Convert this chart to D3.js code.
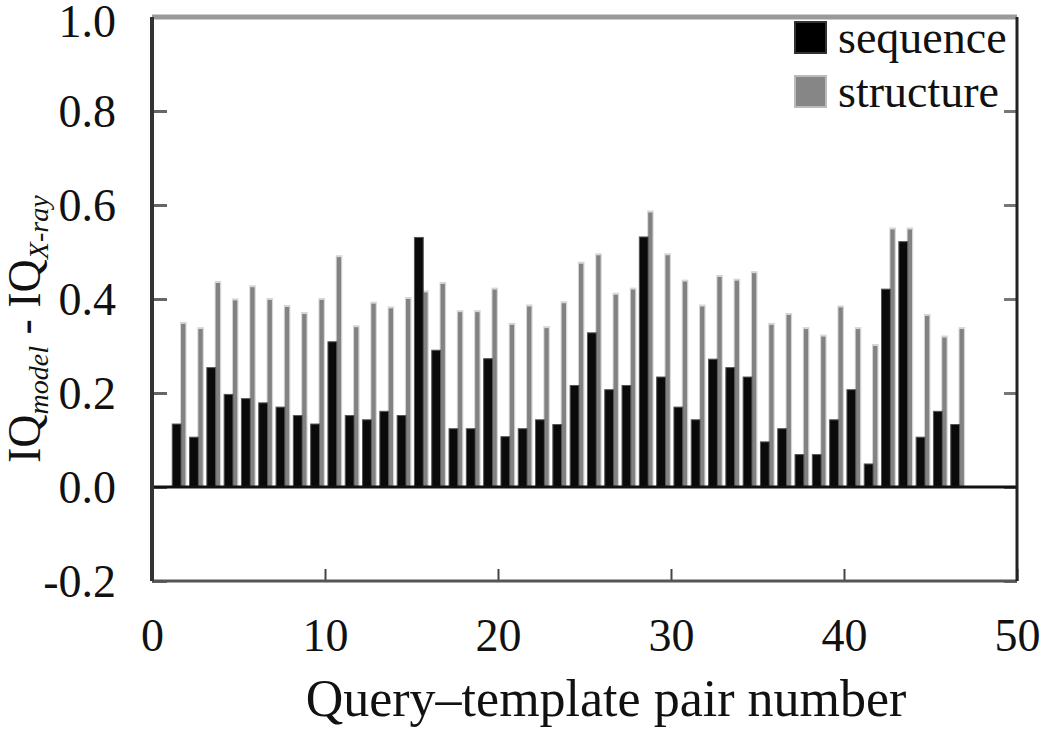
<!DOCTYPE html>
<html>
<head>
<meta charset="utf-8">
<script src="https://cdn.jsdelivr.net/npm/d3@7"></script>
<style>
  body { margin: 0; background: #fff; }
  text { font-family: "Liberation Serif", "DejaVu Serif", serif; fill: #111; }
</style>
</head>
<body>
<div class="chart"></div>
<script>
// pair numbers 1..46
const pairs = d3.range(1, 47);

const sequence = [
  0.134, 0.106, 0.254, 0.197, 0.188, 0.179, 0.170, 0.152, 0.134, 0.309,
  0.152, 0.143, 0.161, 0.152, 0.531, 0.291, 0.124, 0.124, 0.273, 0.107,
  0.124, 0.143, 0.133, 0.216, 0.328, 0.207, 0.216, 0.532, 0.234, 0.170,
  0.143, 0.272, 0.254, 0.234, 0.096, 0.124, 0.069, 0.069, 0.143, 0.207,
  0.049, 0.421, 0.522, 0.106, 0.161, 0.133
];

const structure = [
  0.347, 0.336, 0.434, 0.397, 0.425, 0.398, 0.383, 0.368, 0.398, 0.489,
  0.340, 0.390, 0.380, 0.400, 0.414, 0.432, 0.372, 0.372, 0.420, 0.345,
  0.384, 0.338, 0.391, 0.475, 0.493, 0.409, 0.420, 0.584, 0.493, 0.437,
  0.384, 0.447, 0.439, 0.455, 0.345, 0.366, 0.336, 0.320, 0.382, 0.336,
  0.300, 0.548, 0.548, 0.364, 0.318, 0.336
];

const yTicks = [-0.2, 0.0, 0.2, 0.4, 0.6, 0.8, 1.0];
const yTickLabels = ["-0.2", "0.0", "0.2", "0.4", "0.6", "0.8", "1.0"];
const xTicks = [0, 10, 20, 30, 40, 50];
const seriesNames = ["sequence", "structure"];

const width = 1050, height = 731;
const mLeft = 152, mRight = 1017, mTop = 17, mBottom = 581;

const svg = d3.select(".chart").append("svg")
  .attr("width", width)
  .attr("height", height);

const x = d3.scaleLinear().domain([0, 50]).range([mLeft, mRight]);
const y = d3.scaleLinear().domain([-0.2, 1.0]).range([mBottom, mTop]);

// y axis, ticks pointing inward
const yAxis = d3.axisLeft(y)
  .tickValues(yTicks)
  .tickSizeInner(-15)
  .tickSizeOuter(0)
  .tickPadding(36)
  .tickFormat((d, i) => yTickLabels[i]);

const gy = svg.append("g").attr("transform", `translate(${mLeft},0)`).call(yAxis);
gy.select(".domain").remove();
gy.selectAll(".tick line").attr("stroke", "#666").attr("stroke-width", 3);
gy.selectAll(".tick text")
  .style("font-size", "46px")
  .attr("dy", (d, i) => i === yTicks.length - 1 ? "0.42em" : "0.34em");

const yAxisR = d3.axisRight(y)
  .tickValues(yTicks)
  .tickSizeInner(-13)
  .tickSizeOuter(0)
  .tickFormat("");
const gyr = svg.append("g").attr("transform", `translate(${mRight},0)`).call(yAxisR);
gyr.select(".domain").remove();
gyr.selectAll(".tick line").attr("stroke", "#777").attr("stroke-width", 3);

// x axis
const xAxis = d3.axisBottom(x)
  .tickValues(xTicks)
  .tickSizeInner(-12)
  .tickSizeOuter(0)
  .tickPadding(37)
  .tickFormat(d3.format("d"));
const gx = svg.append("g").attr("transform", `translate(0,${mBottom})`).call(xAxis);
gx.select(".domain").remove();
gx.selectAll(".tick line").attr("stroke", "#444").attr("stroke-width", 2);
gx.selectAll(".tick text")
  .style("font-size", "46px")
  .attr("dy", "0.71em");

// bars
const barData = pairs.map((p, i) => ({ p, seq: sequence[i], str: structure[i] }));

// structure: light halo behind a mid-grey core
svg.append("g").selectAll("rect")
  .data(barData)
  .join("rect")
  .attr("x", d => x(d.p + 0.62))
  .attr("width", x(0.38) - x(0))
  .attr("y", d => y(d.str) - 2)
  .attr("height", d => y(0) - y(d.str) + 2)
  .attr("fill", "#d6d6d6");

svg.append("g").selectAll("rect")
  .data(barData)
  .join("rect")
  .attr("x", d => x(d.p + 0.68))
  .attr("width", x(0.25) - x(0))
  .attr("y", d => y(d.str))
  .attr("height", d => y(0) - y(d.str))
  .attr("fill", "#828282");

svg.append("g").selectAll("rect")
  .data(barData)
  .join("rect")
  .attr("x", d => x(d.p + 0.17))
  .attr("width", x(0.51) - x(0))
  .attr("y", d => y(d.seq))
  .attr("height", d => y(0) - y(d.seq))
  .attr("fill", "#0a0a0a")
  .attr("stroke", "#555")
  .attr("stroke-width", 1);

// zero line
svg.append("line")
  .attr("x1", mLeft).attr("x2", mRight)
  .attr("y1", y(0)).attr("y2", y(0))
  .attr("stroke", "#111").attr("stroke-width", 3);

// frame
svg.append("line").attr("x1", mLeft).attr("x2", mRight).attr("y1", mTop).attr("y2", mTop)
  .attr("stroke", "#9a9a9a").attr("stroke-width", 5);
svg.append("line").attr("x1", mLeft).attr("x2", mRight).attr("y1", mBottom).attr("y2", mBottom)
  .attr("stroke", "#555").attr("stroke-width", 3);
svg.append("line").attr("x1", mLeft).attr("x2", mLeft).attr("y1", mTop).attr("y2", mBottom)
  .attr("stroke", "#333").attr("stroke-width", 4);
svg.append("line").attr("x1", mRight).attr("x2", mRight).attr("y1", mTop).attr("y2", mBottom)
  .attr("stroke", "#222").attr("stroke-width", 3);

// legend
const legend = svg.append("g").attr("transform", "translate(795,22)");
const legendRows = legend.selectAll("g")
  .data(seriesNames)
  .join("g")
  .attr("transform", (d, i) => `translate(0,${i * 54})`);
legendRows.append("rect")
  .attr("width", 31).attr("height", 31)
  .attr("fill", (d, i) => i === 0 ? "#000" : "#868686")
  .attr("stroke", (d, i) => i === 0 ? "#333" : "#bbb")
  .attr("stroke-width", 2);
legendRows.append("text")
  .attr("x", 43).attr("y", 31)
  .style("font-size", "46px")
  .text(d => d);

// axis titles
svg.append("text")
  .attr("x", 606).attr("y", 716)
  .attr("text-anchor", "middle")
  .style("font-size", "52px")
  .text("Query\u2013template pair number");

const ytitle = svg.append("text")
  .attr("transform", "translate(40,463) rotate(-90)")
  .style("font-size", "46px");
ytitle.append("tspan").text("IQ");
ytitle.append("tspan").attr("dy", 8).style("font-size", "28px").style("font-style", "italic").text("model");
ytitle.append("tspan").attr("dy", -8).text(" - IQ");
ytitle.append("tspan").attr("dy", 8).style("font-size", "28px").style("font-style", "italic").text("X-ray");
</script>
</body>
</html>
